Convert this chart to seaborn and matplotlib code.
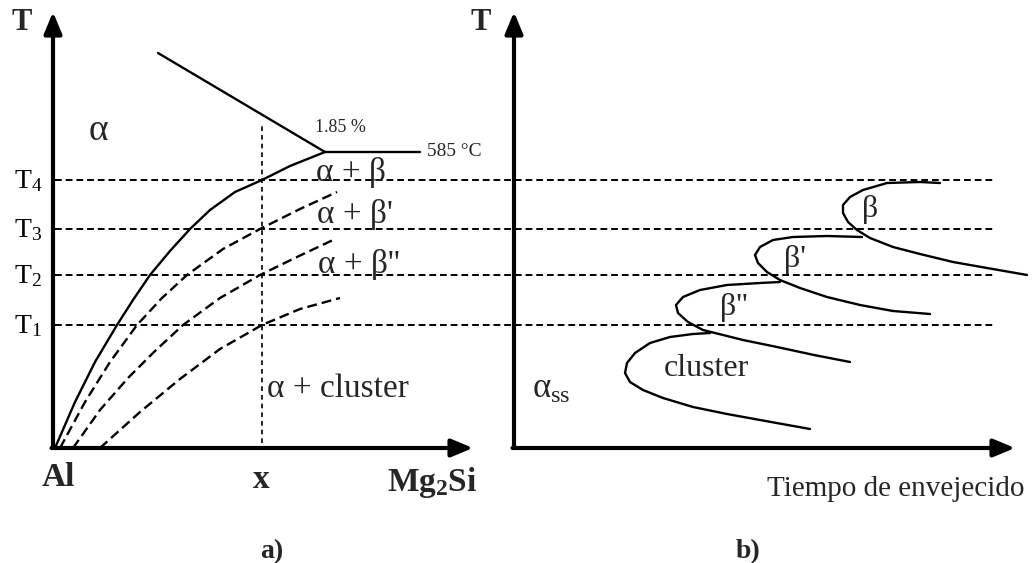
import numpy as np
import pandas as pd
import matplotlib
matplotlib.use("Agg")
import matplotlib.pyplot as plt
import seaborn as sns

# ---------------- data (schematic units) ----------------
# panel a: composition (a.u.) vs temperature (a.u.)
T_levels = [268, 219, 173, 123]            # T4, T3, T2, T1
T_labels = ["4", "3", "2", "1"]
x_alloy = 209

liquidus_x = [105, 272]
liquidus_T = [395, 296]
eutectic_x = [272, 367]
eutectic_T = [296, 296]

solvus_x = [2, 22, 42, 64, 80, 97, 117, 137, 157, 182, 209, 237, 257, 272]
solvus_T = [0, 46, 86, 123, 148, 173, 197, 219, 238, 256, 268, 282, 290, 296]

bp_x = [7, 32, 57, 84, 109, 134, 170, 207, 247, 284]
bp_T = [0, 46, 86, 123, 150, 173, 199, 219, 239, 256]

bpp_x = [20, 47, 75, 102, 130, 167, 207, 244, 280]
bpp_T = [0, 38, 70, 97, 123, 150, 173, 191, 208]

cl_x = [47, 87, 127, 167, 209, 247, 287]
cl_T = [0, 36, 69, 99, 123, 139, 150]

# panel b: ageing time (a.u.) vs temperature (a.u.)
cb_t = [426, 406, 373, 349, 336, 329, 329, 334, 343, 356, 379, 406, 439, 473, 513]
cb_T = [265, 266, 265, 258, 251, 243, 235, 226, 218, 210, 201, 194, 186, 180, 173]

cbp_t = [348, 313, 279, 259, 246, 241, 244, 253, 266, 286, 313, 346, 379, 416]
cbp_T = [211, 212, 211, 208, 201, 193, 185, 176, 168, 160, 151, 143, 137, 134]

cbpp_t = [266, 246, 213, 186, 169, 162, 164, 174, 189, 229, 263, 300, 336]
cbpp_T = [166, 165, 163, 158, 151, 143, 135, 126, 118, 108, 101, 93, 86]

ccl_t = [196, 179, 156, 136, 121, 113, 111, 116, 129, 149, 179, 213, 246, 296]
ccl_T = [115, 114, 111, 105, 95, 85, 75, 66, 58, 50, 41, 34, 28, 19]

x_axis_end_a = 420
t_axis_end_b = 501
T_axis_top = 436

# ---------------- style ----------------
sns.set_theme(style="white")
plt.rcParams["font.family"] = ["Liberation Serif", "DejaVu Serif"]
plt.rcParams["mathtext.fontset"] = "custom"
plt.rcParams["mathtext.rm"] = "Liberation Serif"
plt.rcParams["mathtext.it"] = "Liberation Serif:italic"
plt.rcParams["mathtext.bf"] = "Liberation Serif:bold"

W, H = 1032, 563
fig = plt.figure(figsize=(W / 100, H / 100), dpi=100)
fig.patch.set_facecolor("white")

ax_a = fig.add_axes([0, 0, 500 / W, 1])
ax_b = fig.add_axes([500 / W, 0, 532 / W, 1])
ax_a.set_xlim(-53, 447)
ax_b.set_xlim(-14, 518)
for ax in (ax_a, ax_b):
    ax.set_ylim(-115, 448)
    ax.set_axis_off()
    ax.patch.set_alpha(0)

K = "black"

def curve(ax, x, y, ls="-", lw=1.7):
    df = pd.DataFrame({"x": x, "y": y})
    sns.lineplot(data=df, x="x", y="y", sort=False, estimator=None, ax=ax,
                 color=K, lw=lw, linestyle=ls)
    for l in ax.get_lines()[-1:]:
        l.set_solid_joinstyle("round")
        l.set_dash_joinstyle("round")

arrow_kw = dict(arrowstyle="-|>,head_length=0.65,head_width=0.27", lw=3,
                color=K, mutation_scale=20, shrinkA=0, shrinkB=0)

# ---------- panel a ----------
ax_a.annotate("", xy=(0, T_axis_top), xytext=(0, 0), arrowprops=arrow_kw)
ax_a.annotate("", xy=(x_axis_end_a, 0), xytext=(-1.5, 0), arrowprops=arrow_kw)

# horizontal temperature levels across both panels
for Tl in T_levels:
    ax_a.plot([2, 942], [Tl, Tl], color=K, lw=1.4, linestyle=(0, (3.5, 2)),
              clip_on=False)

ax_a.plot([x_alloy, x_alloy], [5, 325], color=K, lw=1.2, linestyle=(0, (2.8, 2.4)))

curve(ax_a, liquidus_x, liquidus_T)
curve(ax_a, eutectic_x, eutectic_T)
curve(ax_a, solvus_x, solvus_T)
dash = (0, (4.2, 2.1))
curve(ax_a, bp_x, bp_T, ls=dash)
curve(ax_a, bpp_x, bpp_T, ls=dash)
curve(ax_a, cl_x, cl_T, ls=dash)

for Tl, lab in zip(T_levels, T_labels):
    ax_a.text(-25, Tl - 8, "T$_{" + lab + "}$", fontsize=20, ha="center",
              va="baseline", color=K)

ax_a.text(-31, 425, "T", fontsize=22, fontweight="bold", ha="center", va="center")
ax_a.text(45, 317, "α", fontsize=27, ha="center", va="center")
ax_a.text(287, 320, "1.85 %", fontsize=13, ha="center", va="center")
ax_a.text(374, 296, "585 °C", fontsize=14, ha="left", va="center")
ax_a.text(298, 275, "α + β", fontsize=24, ha="center", va="center")
ax_a.text(302, 234, "α + β'", fontsize=24, ha="center", va="center")
ax_a.text(306, 184, "α + β''", fontsize=24, ha="center", va="center")
ax_a.text(214, 59, "α + cluster", fontsize=24, ha="left", va="center")
ax_a.text(5, -30, "Al", fontsize=24, fontweight="bold", ha="center", va="center")
ax_a.text(208, -32, "x", fontsize=24, fontweight="bold", ha="center", va="center")
ax_a.text(379, -35, r"$\mathbf{Mg_{2}Si}$", fontsize=24, ha="center", va="center")
ax_a.text(219, -104, "a)", fontsize=20, fontweight="bold", ha="center", va="center")

# ---------- panel b ----------
ax_b.annotate("", xy=(0, T_axis_top), xytext=(0, 0), arrowprops=arrow_kw)
ax_b.annotate("", xy=(t_axis_end_b, 0), xytext=(-1.5, 0), arrowprops=arrow_kw)

curve(ax_b, cb_t, cb_T)
curve(ax_b, cbp_t, cbp_T)
curve(ax_b, cbpp_t, cbpp_T)
curve(ax_b, ccl_t, ccl_T)

ax_b.text(-33, 425, "T", fontsize=22, fontweight="bold", ha="center", va="center")
ax_b.text(356, 238, "β", fontsize=23, ha="center", va="center")
ax_b.text(281, 188, "β'", fontsize=23, ha="center", va="center")
ax_b.text(220, 140, "β''", fontsize=23, ha="center", va="center")
ax_b.text(192, 79, "cluster", fontsize=23, ha="center", va="center")
ax_b.text(18, 50, r"α$_{\mathrm{ss}}$", fontsize=25, ha="left", va="baseline")
ax_b.text(382, -41, "Tiempo de envejecido", fontsize=21, ha="center", va="center")
ax_b.text(234, -104, "b)", fontsize=20, fontweight="bold", ha="center", va="center")

fig.savefig("out.png", dpi=100, facecolor="white")
